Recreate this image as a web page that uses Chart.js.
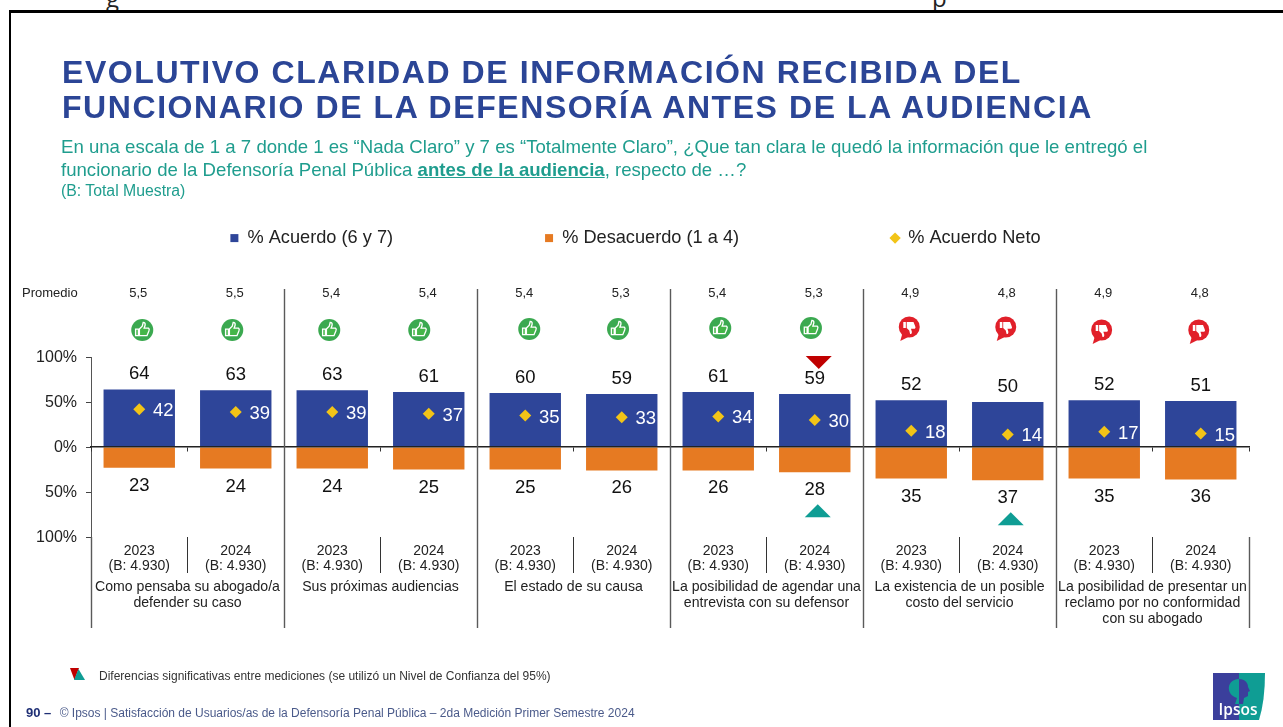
<!DOCTYPE html>
<html lang="es">
<head>
<meta charset="utf-8">
<title>Evolutivo claridad de información</title>
<script src="https://cdn.jsdelivr.net/npm/chart.js@4/dist/chart.umd.min.js"></script>
<style>
html,body{margin:0;padding:0;background:#fff;width:1283px;height:727px;overflow:hidden;font-family:"Liberation Sans",Arial,sans-serif}
#wrap{position:relative;width:1283px;height:727px;overflow:hidden}
#frame{position:absolute;left:9px;top:10px;width:1290px;height:740px;border-left:2px solid #000;border-top:3px solid #000}
canvas{position:absolute;left:0;top:0}
.t{position:absolute;white-space:nowrap}
#title{left:62px;top:55px;font-weight:bold;font-size:32px;line-height:35px;letter-spacing:1.57px;color:#2b4596}
#sub{left:61px;top:135px;font-size:18.6px;line-height:23px;color:#1f9d8e}
#sub b{text-decoration:underline}
#base{left:61px;top:182px;font-size:15.8px;color:#1f9d8e}
#note{left:99px;top:669px;font-size:12px;color:#333}
#foot{left:26px;top:705px;font-size:12px;color:#4a5a8a}
#foot b{font-size:13px;color:#1f2f75;margin-right:5px}
.frag{position:absolute;top:-19px;font:24px "Open Sans",sans-serif;color:#222}
svg{position:absolute}
</style>
</head>
<body>
<div id="wrap">
<div class="frag" style="left:106px">g</div>
<div class="frag" style="left:932px">p</div>
<div id="frame"></div>
<canvas id="c" width="1283" height="727"></canvas>
<div class="t" id="title">EVOLUTIVO CLARIDAD DE INFORMACIÓN RECIBIDA DEL<br>FUNCIONARIO DE LA DEFENSORÍA ANTES DE LA AUDIENCIA</div>
<div class="t" id="sub">En una escala de 1 a 7 donde 1 es “Nada Claro” y 7 es “Totalmente Claro”, ¿Que tan clara le quedó la información que le entregó el<br>funcionario de la Defensoría Penal Pública <b>antes de la audiencia</b>, respecto de …?</div>
<div class="t" id="base">(B: Total Muestra)</div>
<svg style="left:70px;top:668px" width="16" height="13"><path d="M0 0H9L4.5 12Z" fill="#c00000"/><path d="M8.500 1L15 12H4Z" fill="#0f9d94"/></svg>
<div class="t" id="note">Diferencias significativas entre mediciones (se utilizó un Nivel de Confianza del 95%)</div>
<div class="t" id="foot"><b>90 –</b> © Ipsos | Satisfacción de Usuarios/as de la Defensoría Penal Pública – 2da Medición Primer Semestre 2024</div>
<svg style="left:1213px;top:673px" width="52" height="47" viewBox="0 0 52 47">
<path d="M0 0H26V47H0Z" fill="#3b3f9c"/>
<path d="M26 0H52Q52 28 46 47H26Z" fill="#0f9d94"/>
<path d="M26 6C19 6 15 11 16 17C17 22 21 24 24 25L22 31H26Z" fill="#0f9d94"/>
<path d="M26 6C32 6 35 10 35 14L37 18L35 19L35 23L31 25L30 31H26Z" fill="#3b3f9c"/>
<text x="25" y="42" text-anchor="middle" font-family="Open Sans,sans-serif" font-weight="600" font-size="15.500" fill="#fff">Ipsos</text>
</svg>
</div>
<script>
const categoryYears = ['2023','2024','2023','2024','2023','2024','2023','2024','2023','2024','2023','2024'];
const baseLabels = ['(B: 4.930)','(B: 4.930)','(B: 4.930)','(B: 4.930)','(B: 4.930)','(B: 4.930)','(B: 4.930)','(B: 4.930)','(B: 4.930)','(B: 4.930)','(B: 4.930)','(B: 4.930)'];
const groupNames = [
  ['Como pensaba su abogado/a','defender su caso'],
  ['Sus próximas audiencias'],
  ['El estado de su causa'],
  ['La posibilidad de agendar una','entrevista con su defensor'],
  ['La existencia de un posible','costo del servicio'],
  ['La posibilidad de presentar un','reclamo por no conformidad','con su abogado']
];
const acuerdo = [64,63,63,61,60,59,61,59,52,50,52,51];
const desacuerdo = [23,24,24,25,25,26,26,28,35,37,35,36];
const acuerdoNeto = [42,39,39,37,35,33,34,30,18,14,17,15];
const promedio = ['5,5','5,5','5,4','5,4','5,4','5,3','5,4','5,3','4,9','4,8','4,9','4,8'];
const iconKind = ['up','up','up','up','up','up','up','up','down','down','down','down'];
const sigTop = [0,0,0,0,0,0,0,1,0,0,0,0];
const sigBottom = [0,0,0,0,0,0,0,1,0,1,0,0];

const FONT = '"Liberation Sans",Arial,sans-serif';
const iconNudge = [[3,330],[-3.5,330],[-3,330],[-9.5,330],[4,329],[-3.7,329],[2,328],[-3.8,328],[-2,328],[-2,328],[-2.6,331],[-2,331]];

function thumb(ctx){
  ctx.beginPath();
  ctx.rect(-7,-1,3,7);
  ctx.moveTo(-3,-1);ctx.lineTo(0,-4);ctx.lineTo(1,-8);
  ctx.quadraticCurveTo(3.5,-8,3,-5);ctx.lineTo(2,-2);ctx.lineTo(6.5,-2);
  ctx.quadraticCurveTo(8,-1,7,1);ctx.lineTo(5,6);ctx.lineTo(-3,6);ctx.closePath();
}
const deco = {
  id:'deco',
  beforeLayout(chart){
    const lg = chart.legend;
    if(lg && !lg._wrapped){
      lg._wrapped = true;
      const u = lg.update.bind(lg);
      lg.update = function(w,h,m){ u(w,h,m); this.height = 280; };
      const d = lg.draw.bind(lg);
      lg.draw = function(){ this.left -= 9; d(); this.left += 9; };
    }
  },
  afterDraw(chart){
    const {ctx,chartArea:a,scales:{x,y}} = chart;
    const bars = chart.getDatasetMeta(0).data;
    ctx.save();
    const step = (a.right-a.left)/acuerdo.length;
    ctx.lineWidth = 1.4;
    ctx.strokeStyle = '#5a5a5a';
    ctx.beginPath();
    ctx.moveTo(a.left+.5,y.getPixelForValue(-100));ctx.lineTo(a.left+.5,628);
    for(let g=1;g<=6;g++){
      const px = Math.round(a.left+step*2*g)+.5;
      ctx.moveTo(px,g===6?y.getPixelForValue(-100):289);ctx.lineTo(px,628);
    }
    ctx.stroke();
    ctx.textAlign='center';ctx.textBaseline='middle';
    groupNames.forEach((lines,g)=>{
      const cx = a.left+step*(2*g+1);
      ctx.font='14.100px '+FONT;ctx.fillStyle='#222';
      lines.forEach((l,i)=>ctx.fillText(l,cx,587+i*16));
    });
    ctx.textAlign='left';ctx.font='13px '+FONT;ctx.fillStyle='#222';
    ctx.fillText('Promedio',22,293);
    bars.forEach((b,i)=>{
      const cx=b.x;
      ctx.textAlign='center';
      ctx.font='13px '+FONT;ctx.fillStyle='#222';
      ctx.fillText(promedio[i],cx-1,293);
      ctx.font='18.500px '+FONT;ctx.fillStyle='#111';
      ctx.fillText(String(acuerdo[i]),cx,b.y-15);
      const ny=y.getPixelForValue(-desacuerdo[i]);
      ctx.fillText(String(desacuerdo[i]),cx,ny+18);
      ctx.fillStyle='#fff';
      ctx.fillText(String(acuerdoNeto[i]),cx+24,y.getPixelForValue(acuerdoNeto[i])+2);
      if(sigTop[i]){
        ctx.fillStyle='#c00000';
        const ty=b.y-38;
        ctx.beginPath();ctx.moveTo(cx-9,ty);ctx.lineTo(cx+17,ty);ctx.lineTo(cx+4,ty+13);ctx.closePath();ctx.fill();
      }
      if(sigBottom[i]){
        ctx.fillStyle='#0f9d94';
        const ty=ny+32;
        ctx.beginPath();ctx.moveTo(cx-10,ty+13);ctx.lineTo(cx+16,ty+13);ctx.lineTo(cx+3,ty);ctx.closePath();ctx.fill();
      }
      const ix=cx+iconNudge[i][0], iy=iconNudge[i][1];
      ctx.save();ctx.translate(ix,iy);
      if(iconKind[i]==='up'){
        ctx.fillStyle='#3ba950';
        ctx.beginPath();ctx.arc(0,0,11,0,Math.PI*2);ctx.fill();
        ctx.scale(.95,.95);
        thumb(ctx);ctx.fillStyle='#45b649';ctx.strokeStyle='#fff';ctx.lineWidth=1.4;ctx.fill();ctx.stroke();
      }else{
        ctx.fillStyle='#e1202a';
        ctx.beginPath();ctx.arc(0,-1,10.5,0,Math.PI*2);ctx.fill();
        ctx.beginPath();ctx.moveTo(-7,6);ctx.lineTo(-9,13);ctx.lineTo(-1,9);ctx.closePath();ctx.fill();
        ctx.scale(.85,-.85);ctx.translate(0,1);
        thumb(ctx);ctx.fillStyle='#fff';ctx.fill();
      }
      ctx.restore();
    });
    ctx.restore();
  }
};

new Chart(document.getElementById('c'),{
  type:'bar',
  data:{
    labels:categoryYears,
    datasets:[
      {label:'% Acuerdo (6 y 7)',data:acuerdo,backgroundColor:'#2e4599',pointStyle:'rect',barPercentage:.74,categoryPercentage:1,order:2},
      {label:'% Desacuerdo (1 a 4)',data:desacuerdo.map(v=>-v),backgroundColor:'#e67a22',pointStyle:'rect',barPercentage:.74,categoryPercentage:1,order:2},
      {label:'% Acuerdo Neto',type:'line',data:acuerdoNeto,showLine:false,pointStyle:'rectRot',pointRadius:6,backgroundColor:'#f2c417',borderColor:'#f2c417',borderWidth:0,order:1}
    ]
  },
  options:{
    responsive:false,animation:false,
    layout:{padding:{left:31,right:34,top:77,bottom:120}},
    plugins:{
      tooltip:{enabled:false},
      legend:{
        display:true,position:'top',
        labels:{usePointStyle:true,boxWidth:8,boxHeight:8,padding:152,color:'#222',font:{family:FONT,size:18.2},
          sort:(a,b)=>a.datasetIndex-b.datasetIndex}
      }
    },
    scales:{
      x:{
        stacked:true,position:{y:0},
        ticks:{display:false},
        grid:{display:true,drawOnChartArea:false,offset:true,tickLength:4,color:'#333',z:1},
        border:{color:'#222',width:1.5,z:1},
        afterFit(s){s.height=0;}
      },
      x2:{
        type:'category',position:'bottom',labels:categoryYears.map((v,i)=>[v,baseLabels[i]]),offset:true,
        ticks:{autoSkip:false,maxRotation:0,minRotation:0,padding:-30,color:'#222',font:{family:FONT,size:14,lineHeight:1.12}},
        grid:{display:true,drawOnChartArea:false,offset:true,tickLength:36,color:'#333'},
        border:{display:false},
        afterFit(s){s.height=70;}
      },
      y:{
        stacked:true,min:-100,max:100,
        ticks:{stepSize:50,padding:9,labelOffset:1,color:'#222',font:{family:FONT,size:16},callback:v=>Math.abs(v)+'%'},
        grid:{drawOnChartArea:false,tickLength:5,color:'#444'},
        border:{color:'#555'},
        afterFit(s){s.width=60;}
      }
    }
  },
  plugins:[deco]
});
</script>
</body>
</html>
